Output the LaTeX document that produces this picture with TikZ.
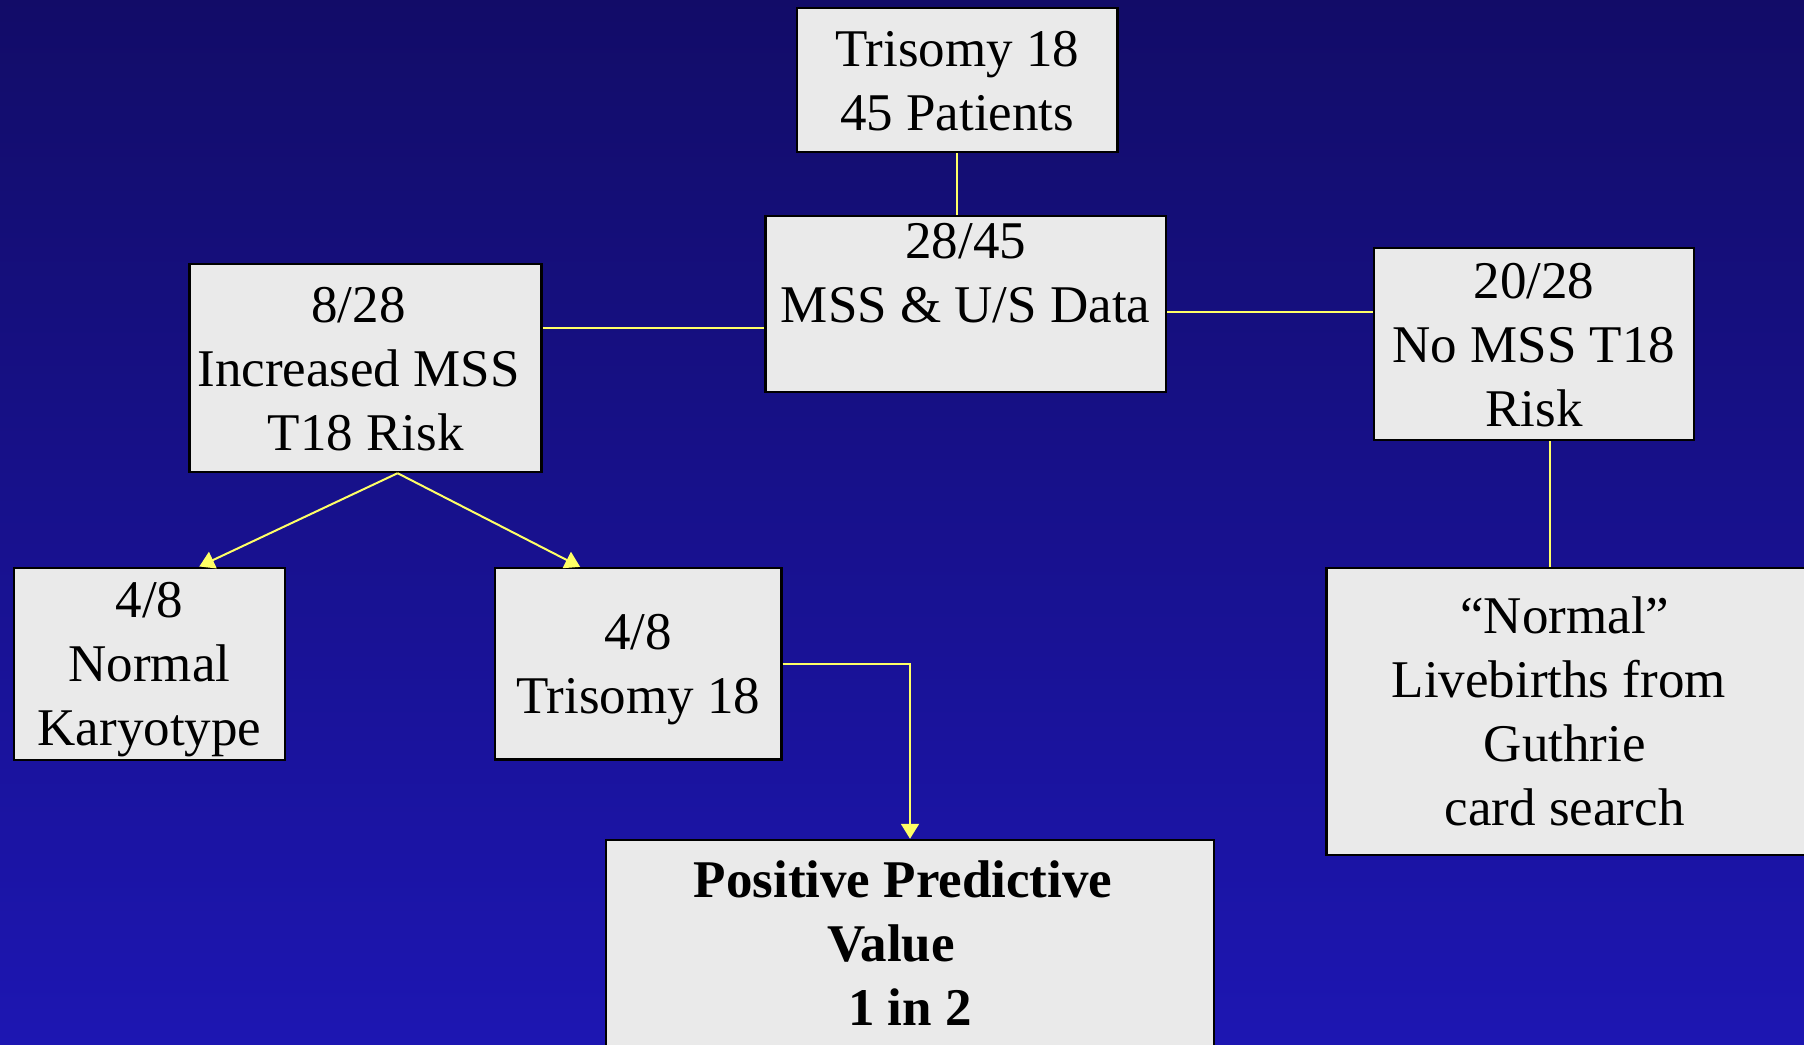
\documentclass[tikz,border=0pt]{standalone}
\usepackage{fontspec}
\setmainfont{Liberation Serif}
\usetikzlibrary{arrows.meta,calc}
\definecolor{bgtop}{RGB}{18,12,104}
\definecolor{bgbot}{RGB}{29,22,178}
\definecolor{boxfill}{RGB}{234,234,234}
\definecolor{conn}{RGB}{255,255,102}
\newcommand{\lstr}{\rule[-7pt]{0pt}{32pt}}
\newcommand{\tsp}[1]{\rule{#1}{0pt}}
\tikzset{
  box/.style={draw=black, line width=1.2pt, fill=boxfill, rectangle, inner sep=0pt,
    align=center, font=\fontsize{26.5}{32}\selectfont},
  link/.style={draw=conn, line width=1pt},
  arrlink/.style={link, -{Triangle[width=9pt,length=7.5pt,fill=conn]}}
}
\begin{document}
\begin{tikzpicture}[x=0.5pt,y=-0.5pt]
\useasboundingbox (0,0) rectangle (1804,1044);
\shade[top color=bgtop, bottom color=bgbot] (0,0) rectangle (1804,1044);
\clip (0,0) rectangle (1804,1044);

\node[box, minimum width=160.25pt, minimum height=72pt] (b1) at (957.25,80)
  {\lstr Trisomy 18\\\lstr 45 Patients};
\node[box, minimum width=200.25pt, minimum height=88pt] (b2) at (965.75,304)
  {\rule[-7pt]{0pt}{28pt}28/45\\\rule[-35pt]{0pt}{60pt}MSS \& U/S Data};
\node[box, minimum width=176pt, minimum height=104pt] (b3) at (365.6,368)
  {\lstr 8/28\tsp{7pt}\\\lstr Increased MSS\tsp{7pt}\\\lstr T18 Risk};
\node[box, minimum width=160.15pt, minimum height=96pt] (b4) at (1533.9,344)
  {\lstr 20/28\\\lstr No MSS T18\\\lstr Risk};
\node[box, minimum width=135.75pt, minimum height=95.65pt] (b5) at (149.5,663.7)
  {\lstr 4/8\\\lstr Normal\\\lstr Karyotype};
\node[box, minimum width=143.4pt, minimum height=95.65pt] (b6) at (638.1,663.7)
  {\lstr 4/8\\\lstr Trisomy 18};
\node[box, minimum width=244.25pt, minimum height=143.5pt] (b7) at (1570.75,711.5)
  {\lstr “Normal”\tsp{6pt}\\\lstr Livebirths from\tsp{12pt}\\\lstr Guthrie\tsp{6pt}\\\lstr card search\tsp{6pt}};
\node[box, minimum width=304pt, minimum height=103pt, font=\fontsize{26.5}{32}\selectfont\bfseries] (b8) at (910,943)
  {\lstr Positive Predictive\tsp{7pt}\\\lstr Value\tsp{19pt}\\\lstr 1 in 2};

\draw[link] (b1.south) -- (b1.south |- b2.north);
\draw[link] ([yshift=20pt]b3.east) -- ([yshift=20pt]b3.east -| b2.west);
\draw[link] ([yshift=-4pt]b2.east) -- ([yshift=-4pt]b2.east -| b4.west);
\draw[link] ([xshift=7.9pt]b4.south) -- ([xshift=7.9pt]b4.south |- b7.north);
\coordinate (apex) at ([xshift=16pt]b3.south);
\draw[arrlink] (apex) -- ([xshift=24.9pt]b5.north);
\draw[arrlink] (apex) -- ([xshift=-29pt]b6.north);
\draw[arrlink] (b6.east) -| (b8.north);
\end{tikzpicture}
\end{document}
